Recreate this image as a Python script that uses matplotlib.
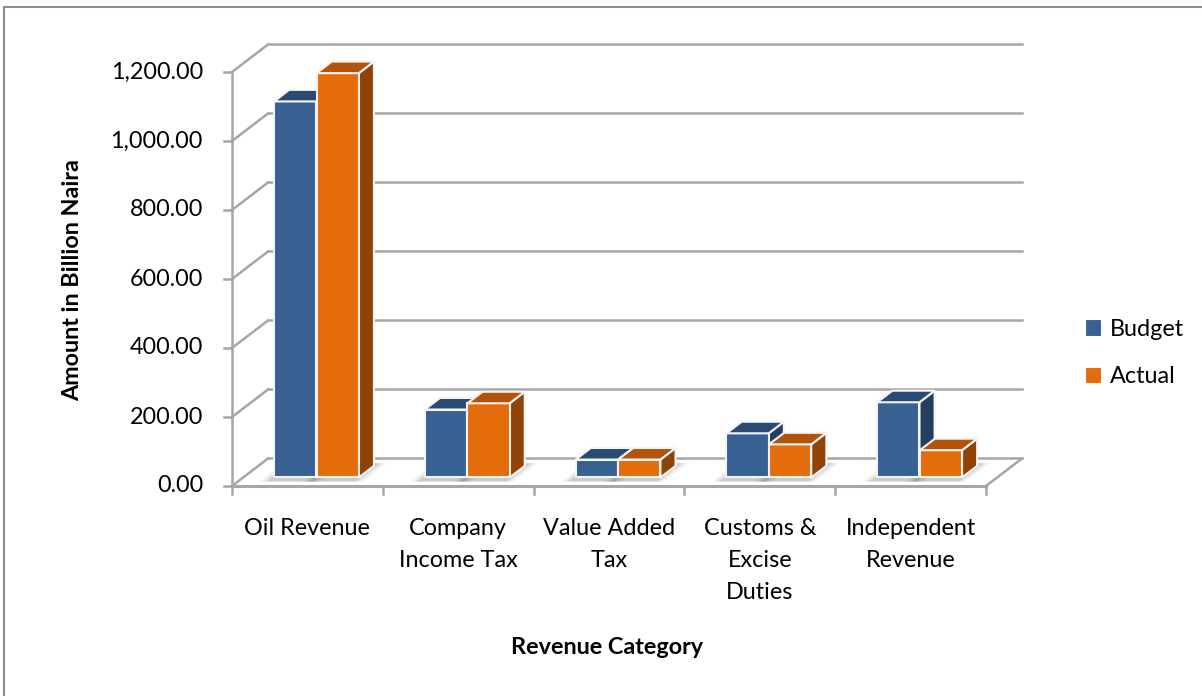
import matplotlib
matplotlib.use("Agg")
import matplotlib.pyplot as plt
from matplotlib.patches import Polygon, Rectangle, Patch
from matplotlib.lines import Line2D

# ---- data -------------------------------------------------------------
categories = ["Oil Revenue", "Company\nIncome Tax", "Value Added\nTax",
              "Customs &\nExcise\nDuties", "Independent\nRevenue"]
budget = [1090, 197, 52, 128, 218]
actual = [1172, 215, 52, 96, 79]
series_names = ["Budget", "Actual"]
y_ticks = [0, 200, 400, 600, 800, 1000, 1200]
y_title = "Amount in Billion Naira"
x_title = "Revenue Category"

# ---- styling ----------------------------------------------------------
W, H = 1202, 696
plt.rcParams['font.family'] = ['Lato', 'DejaVu Sans']
GRID = '#a6a6a6'
FACE = {"Budget": ('#386092', '#284a73', '#233e61'),
        "Actual": ('#e46c0a', '#b35309', '#8f4306')}
FS = 16.8
FS_TITLE = 16.8

fig = plt.figure(figsize=(W / 100, H / 100), dpi=100)
ax = fig.add_axes([232 / W, (H - 486) / H, 754 / W, 414 / H])
ax.set_xlim(0, len(categories))
ax.set_ylim(y_ticks[0], y_ticks[-1])
ax.axis('off')

# oblique projection: full depth shifts a point right / up by DX, DY pixels
DX, DY = 36, 27.5
o = ax.transData.transform((0, 0))
u = ax.transData.transform((1, 1))
ppx, ppy = u[0] - o[0], u[1] - o[1]


def P(x, v, d=0.0):
    return (x + d * DX / ppx, v + d * DY / ppy)


def seg(a, b, **kw):
    ax.add_line(Line2D([a[0], b[0]], [a[1], b[1]], clip_on=False, **kw))


n = len(categories)
ymax = y_ticks[-1]

# back wall grid and side wall
for v in y_ticks:
    seg(P(0, v, 1), P(n, v, 1), color=GRID, lw=1.8, zorder=1)
    seg(P(0, v, 0), P(0, v, 1), color=GRID, lw=1.8, zorder=1)
seg(P(0, 0, 0), P(0, ymax, 0), color=GRID, lw=1.8, zorder=1)
# floor edges
seg(P(0, 0, 0), P(n, 0, 0), color=GRID, lw=2.2, zorder=1)
seg(P(n, 0, 0), P(n, 0, 1), color=GRID, lw=1.8, zorder=1)

# y ticks and labels
tick_x = 8 / ppx
for v in y_ticks:
    seg(P(-tick_x, v), P(0, v), color=GRID, lw=1.8, zorder=1)
    ax.text(-29 / ppx, v, f"{v:,.2f}", ha='right', va='center',
            fontsize=FS, color='black')

# x ticks and category labels
tick_y = 8 / ppy
for i in range(n + 1):
    seg(P(i, 0), P(i, -tick_y), color=GRID, lw=1.8, zorder=1)
line_h = 32 / ppy
for i, lab in enumerate(categories):
    for k, line in enumerate(lab.split("\n")):
        ax.text(i + 0.5, -(42 / ppy) - k * line_h, line, ha='center',
                va='center', fontsize=FS, color='black')

# 3-D bars
BW = 0.28
D0, D1 = 0.31, 0.73
offsets = {"Budget": 0.205, "Actual": 0.487}
for i in range(n):
    for name, vals in (("Budget", budget), ("Actual", actual)):
        v = vals[i]
        x0 = i + offsets[name]
        x1 = x0 + BW
        # soft floor shadow
        for g, a in ((0.06, 0.05), (0.035, 0.07), (0.015, 0.09)):
            ax.add_patch(Polygon([P(x0 - g, 0, D0 - 0.15), P(x1 + g, 0, D0 - 0.15),
                                  P(x1 + g, 0, D1 + 0.1), P(x0 - g, 0, D1 + 0.1)],
                                 closed=True, facecolor='black', alpha=a,
                                 edgecolor='none', zorder=2, clip_on=False))
        front, top, side = FACE[name]
        kw = dict(closed=True, edgecolor='#f4f4f4', lw=1.5, zorder=3,
                  clip_on=False, joinstyle='miter')
        ax.add_patch(Polygon([P(x1, 0, D0), P(x1, 0, D1), P(x1, v, D1), P(x1, v, D0)],
                             facecolor=side, **kw))
        ax.add_patch(Polygon([P(x0, 0, D0), P(x1, 0, D0), P(x1, v, D0), P(x0, v, D0)],
                             facecolor=front, **kw))
        ax.add_patch(Polygon([P(x0, v, D0), P(x1, v, D0), P(x1, v, D1), P(x0, v, D1)],
                             facecolor=top, **kw))

# axis titles
fig.text(73 / W, 1 - 280 / H, y_title, rotation=90, ha='center', va='center',
         fontsize=FS_TITLE, fontweight='bold')
fig.text(607 / W, 1 - 647 / H, x_title, ha='center', va='center',
         fontsize=FS_TITLE, fontweight='bold')

# legend
handles = [Patch(facecolor=FACE[s][0], edgecolor='white', lw=0.8) for s in series_names]
fig.legend(handles, series_names, loc='center left',
           bbox_to_anchor=(1073 / W, 1 - 353 / H), frameon=False, fontsize=FS,
           handlelength=0.7, handleheight=0.7, handletextpad=0.4,
           labelspacing=1.15, borderpad=0)

# chart border
fig.add_artist(Rectangle((3.5 / W, -0.05), 1.2, 1 - 7 / H + 0.05,
                         transform=fig.transFigure, fill=False,
                         edgecolor='#8c8c8c', lw=1.5))

fig.savefig("out.png", dpi=100)
